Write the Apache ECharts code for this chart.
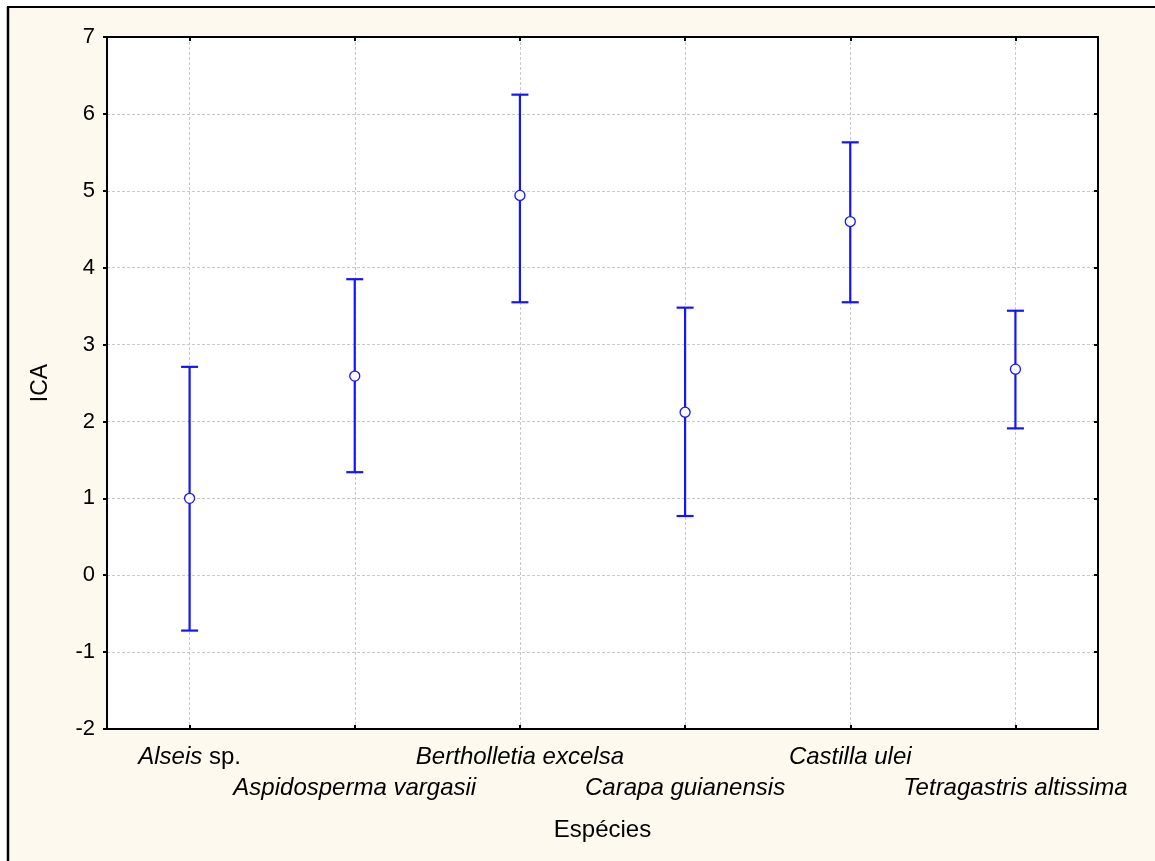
<!DOCTYPE html>
<html>
<head>
<meta charset="utf-8">
<script src="https://cdn.jsdelivr.net/npm/echarts@6/dist/echarts.min.js"></script>
<style>
  html, body { margin: 0; padding: 0; background: #fff; }
  #chart { width: 1155px; height: 861px; }
</style>
</head>
<body>
<div id="chart"></div>
<script>
// especies e valores (media e intervalo)
const species = [
  ['Alseis', ' sp.'],
  ['Aspidosperma vargasii', ''],
  ['Bertholletia excelsa', ''],
  ['Carapa guianensis', ''],
  ['Castilla ulei', ''],
  ['Tetragastris altissima', '']
]
const means = [1.0, 2.59, 4.94, 2.12, 4.6, 2.68]
const lower = [-0.72, 1.34, 3.55, 0.77, 3.55, 1.91]
const upper = [2.71, 3.85, 6.25, 3.48, 5.63, 3.44]
const yTicks = { min: -2, max: 7, step: 1 }

const blue = '#1414ff'
const font = 'Liberation Sans, Arial, sans-serif'

const chart = echarts.init(document.getElementById('chart'))

const barData = means.map((m, i) => [i, lower[i], upper[i]])
const meanData = means.map((m, i) => [i, m])

// rotulos em duas linhas alternadas
function catLabel(v) {
  if (v !== Math.round(v) || v < 0 || v >= species.length) return ''
  const s = species[v]
  let txt = '{i|' + s[0] + '}'
  if (s[1]) txt += '{n|' + s[1] + '}'
  return v % 2 === 1 ? '{e| }\n' + txt : txt
}

const gridDash = { color: '#c8c8c8', type: [3, 2], width: 1 }
const black = { color: '#000', width: 2 }

chart.setOption({
  backgroundColor: '#fdf9ef',
  animation: false,
  graphic: [
    { type: 'rect', shape: { x: 0, y: 0, width: 7, height: 861 }, style: { fill: '#fff' }, silent: true },
    { type: 'rect', shape: { x: 0, y: 0, width: 1155, height: 6 }, style: { fill: '#fff' }, silent: true },
    { type: 'line', shape: { x1: 8, y1: 7, x2: 8, y2: 861 }, style: { stroke: '#000', lineWidth: 2.5 }, silent: true },
    { type: 'line', shape: { x1: 7, y1: 7, x2: 1155, y2: 7 }, style: { stroke: '#000', lineWidth: 2 }, silent: true }
  ],
  grid: {
    left: 107, top: 37, right: 57, bottom: 132,
    show: true, backgroundColor: '#fff', borderWidth: 0
  },
  xAxis: [{
    type: 'value',
    min: -0.5, max: 5.5,
    position: 'bottom',
    name: 'Espécies',
    nameLocation: 'middle',
    nameGap: 89,
    nameTextStyle: { fontFamily: font, fontSize: 24, color: '#000' },
    axisLine: { onZero: false, lineStyle: black },
    axisTick: { inside: true, length: 4, lineStyle: black },
    axisLabel: {
      formatter: catLabel,
      margin: 13,
      fontFamily: font, fontSize: 24, color: '#000', lineHeight: 31,
      showMinLabel: false, showMaxLabel: false,
      rich: {
        i: { fontStyle: 'italic', fontFamily: font, fontSize: 24, lineHeight: 31, color: '#000' },
        n: { fontStyle: 'normal', fontFamily: font, fontSize: 24, lineHeight: 31, color: '#000' },
        e: { fontSize: 24, lineHeight: 31 }
      }
    },
    splitLine: { show: true, lineStyle: gridDash }
  }, {
    type: 'value',
    min: -0.5, max: 5.5,
    position: 'top',
    axisLine: { onZero: false, lineStyle: black },
    axisTick: { inside: true, length: 4, lineStyle: black },
    axisLabel: { show: false },
    splitLine: { show: false }
  }],
  yAxis: [{
    type: 'value',
    min: yTicks.min, max: yTicks.max, interval: yTicks.step,
    position: 'left',
    name: 'ICA',
    nameLocation: 'middle',
    nameGap: 55,
    nameTextStyle: { fontFamily: font, fontSize: 23, color: '#000' },
    axisLine: { show: true, onZero: false, lineStyle: black },
    axisTick: { show: true, length: 4, lineStyle: black },
    axisLabel: { margin: 12, fontFamily: font, fontSize: 22, color: '#000' },
    splitLine: { show: true, lineStyle: gridDash }
  }, {
    type: 'value',
    min: yTicks.min, max: yTicks.max, interval: yTicks.step,
    position: 'right',
    axisLine: { show: true, onZero: false, lineStyle: black },
    axisTick: { show: true, inside: true, length: 4, lineStyle: black },
    axisLabel: { show: false },
    splitLine: { show: false }
  }],
  series: [{
    type: 'custom',
    xAxisIndex: 0, yAxisIndex: 0,
    data: barData,
    z: 3,
    renderItem: function (params, api) {
      const x = api.value(0)
      const lo = api.coord([x, api.value(1)])
      const hi = api.coord([x, api.value(2)])
      const w = 8.5
      const st = { stroke: blue, lineWidth: 2.2 }
      return {
        type: 'group',
        children: [
          { type: 'line', shape: { x1: lo[0], y1: lo[1], x2: hi[0], y2: hi[1] }, style: st },
          { type: 'line', shape: { x1: hi[0] - w, y1: hi[1], x2: hi[0] + w, y2: hi[1] }, style: st },
          { type: 'line', shape: { x1: lo[0] - w, y1: lo[1], x2: lo[0] + w, y2: lo[1] }, style: st }
        ]
      }
    }
  }, {
    type: 'scatter',
    xAxisIndex: 0, yAxisIndex: 0,
    data: meanData,
    z: 4,
    symbol: 'circle',
    symbolSize: 10,
    itemStyle: { color: '#fff', borderColor: blue, borderWidth: 1.3, opacity: 1 }
  }]
})
</script>
</body>
</html>
